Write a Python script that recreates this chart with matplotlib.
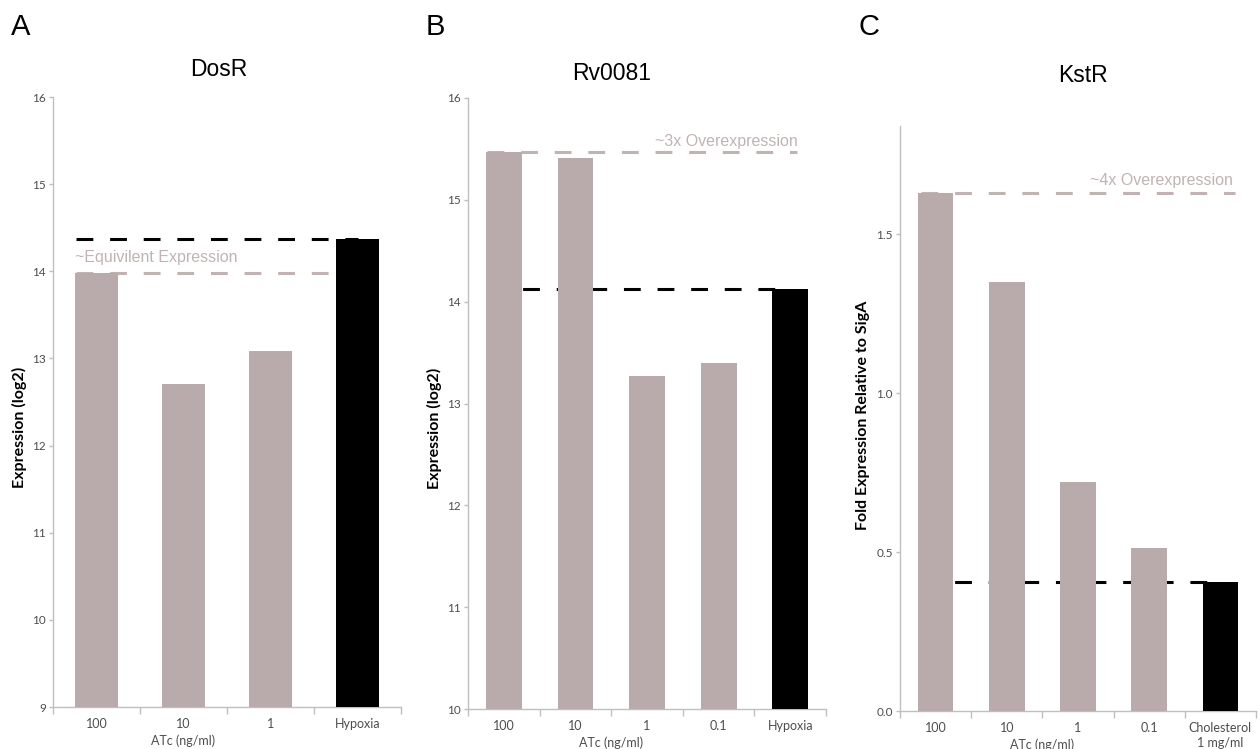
import matplotlib
matplotlib.use('Agg')
import matplotlib.pyplot as plt
from matplotlib.transforms import blended_transform_factory

# DosR (log2 expression)
dosr_labels = ['100', '10', '1', 'Hypoxia']
dosr_values = [13.98, 12.71, 13.09, 14.37]

# Rv0081 (log2 expression)
rv_labels = ['100', '10', '1', '0.1', 'Hypoxia']
rv_values = [15.47, 15.41, 13.27, 13.40, 14.12]

# KstR (fold expression relative to SigA)
kstr_labels = ['100', '10', '1', '0.1', 'Cholesterol\n1 mg/ml']
kstr_values = [1.63, 1.35, 0.72, 0.513, 0.405]

BAR = '#b9abab'
REF = '#c2b3b3'
SPINE = '#bfbfbf'
TICK = '#4d4d4d'
CAL = ['Lato', 'DejaVu Sans']
ARIAL = ['Liberation Sans', 'DejaVu Sans']

W, H = 1260, 749
fig = plt.figure(figsize=(W / 100, H / 100), dpi=100)


def px_rect(left, right, top, bottom):
    return [left / W, 1 - bottom / H, (right - left) / W, (bottom - top) / H]


def panel(rect, labels, values, ylim, yticks, yfmt, note, note_x, note_y,
          note_ha, gray_span, black_span):
    ax = fig.add_axes(rect)
    n = len(labels)
    xs = [i + 0.5 for i in range(n)]
    colors = [BAR] * (n - 1) + ['black']
    ax.bar(xs, values, width=0.5, color=colors, zorder=3)

    # reference lines: first dose level and control condition
    ax.plot(gray_span, [values[0]] * 2, color=REF, lw=2.2,
            dashes=(5.5, 5.5), zorder=2, solid_capstyle='butt')
    ax.plot(black_span, [values[-1]] * 2, color='black', lw=2.2,
            dashes=(5.5, 5.5), zorder=2, solid_capstyle='butt')
    ax.text(note_x, note_y, note, color=REF, fontsize=11.5, family=ARIAL,
            ha=note_ha, va='center', zorder=4)

    ax.set_xlim(0, n)
    ax.set_ylim(*ylim)
    ax.set_yticks(yticks)
    ax.set_yticklabels([yfmt.format(v) for v in yticks])
    ax.set_xticks(range(n + 1))
    ax.set_xticklabels([])
    ax.set_xticks(xs, minor=True)
    ax.set_xticklabels(labels, minor=True, fontsize=9, family=CAL,
                       color=TICK, linespacing=1.25)
    ax.tick_params(axis='x', which='major', length=5, color=SPINE, width=1)
    ax.tick_params(axis='x', which='minor', length=0, pad=8)
    ax.tick_params(axis='y', length=3, color=SPINE, width=1, pad=2,
                   labelsize=8.5, labelcolor=TICK)
    for lab in ax.get_yticklabels():
        lab.set_family(CAL)
    for s in ['top', 'right']:
        ax.spines[s].set_visible(False)
    for s in ['left', 'bottom']:
        ax.spines[s].set_color(SPINE)
        ax.spines[s].set_linewidth(1)

    # axis title centred under the ATc dose categories
    trans = blended_transform_factory(ax.transData, ax.transAxes)
    ax.annotate('ATc (ng/ml)', (sum(xs[:-1]) / (n - 1), 0), xycoords=trans,
                xytext=(0, -24), textcoords='offset points', ha='center',
                va='center', fontsize=9, family=CAL, color=TICK)
    ax.patch.set_alpha(0)
    return ax


panel(px_rect(53, 401, 97, 707), dosr_labels, dosr_values, (9, 16),
      list(range(9, 17)), '{:d}', '~Equivilent Expression', 0.25, 14.16,
      'left', (0.27, 3.5), (0.27, 3.5))
panel(px_rect(468, 826, 98, 709), rv_labels, rv_values, (10, 16),
      list(range(10, 17)), '{:d}', '~3x Overexpression', 4.6, 15.57,
      'right', (0.27, 4.6), (0.3, 4.5))
panel(px_rect(900, 1256, 126, 711), kstr_labels, kstr_values, (0, 1.84),
      [0.0, 0.5, 1.0, 1.5], '{:.1f}', '~4x Overexpression', 4.68, 1.67,
      'right', (0.3, 4.7), (0.3, 4.5))

# panel letters, titles and y-axis labels
for x, letter in [(11, 'A'), (426, 'B'), (859, 'C')]:
    fig.text(x / W, 1 - 27 / H, letter, fontsize=21, family=ARIAL,
             ha='left', va='center')
for x, y, title in [(219, 70, 'DosR'), (612, 73, 'Rv0081'), (1083, 76, 'KstR')]:
    fig.text(x / W, 1 - y / H, title, fontsize=16.5, family=ARIAL,
             ha='center', va='center')
for x, y, lab in [(19, 427, 'Expression (log2)'),
                  (434, 428, 'Expression (log2)'),
                  (863, 415, 'Fold Expression Relative to SigA')]:
    fig.text(x / W, 1 - y / H, lab, fontsize=11.5, family=CAL,
             fontweight='bold', rotation=90, ha='center', va='center')

fig.savefig('out.png', dpi=100, facecolor='white')
